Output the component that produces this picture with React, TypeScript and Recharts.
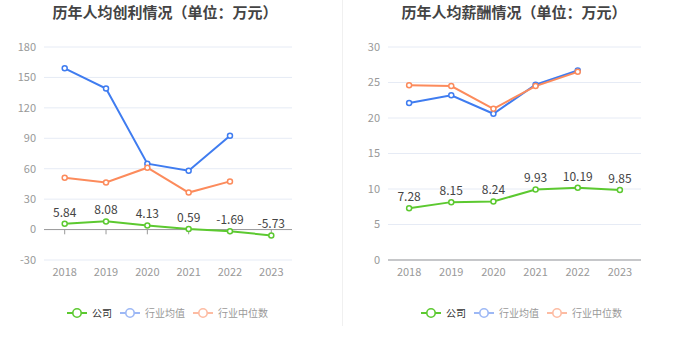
import React from 'react';
import {
  LineChart,
  Line,
  XAxis,
  YAxis,
  CartesianGrid,
  LabelList,
  ReferenceLine,
} from 'recharts';

// years on the x axis
const years = ['2018', '2019', '2020', '2021', '2022', '2023'];

// 人均创利 (万元)
const profitCompany = [5.84, 8.08, 4.13, 0.59, -1.69, -5.73];
const profitIndustryAvg = [159, 139, 65, 58, 92.5, null];
const profitIndustryMedian = [51, 46.5, 61, 36.5, 47.5, null];
const profitTicks = [-30, 0, 30, 60, 90, 120, 150, 180];

// 人均薪酬 (万元)
const salaryCompany = [7.28, 8.15, 8.24, 9.93, 10.19, 9.85];
const salaryIndustryAvg = [22.1, 23.2, 20.6, 24.7, 26.7, null];
const salaryIndustryMedian = [24.6, 24.5, 21.3, 24.5, 26.5, null];
const salaryTicks = [0, 5, 10, 15, 20, 25, 30];

const GREEN = '#5cc930';
const BLUE = '#3f7cf0';
const ORANGE = '#fc8b5c';
const FONT = '"Noto Sans CJK SC", "Noto Sans", sans-serif';

const buildRows = (a: number[], b: (number | null)[], c: (number | null)[]) =>
  years.map((year, i) => ({ year, company: a[i], avg: b[i], median: c[i] }));

const legendItems = [
  { name: '公司', color: GREEN, text: '#333' },
  { name: '行业均值', color: '#9db8f5', text: '#999' },
  { name: '行业中位数', color: '#fdbca3', text: '#999' },
];

function LegendRow({ left }: { left: number }) {
  return (
    <div
      style={{
        position: 'absolute',
        top: 305,
        left,
        display: 'flex',
        fontFamily: FONT,
        fontSize: 10,
        lineHeight: '16px',
      }}
    >
      {legendItems.map((item) => (
        <div key={item.name} style={{ display: 'flex', alignItems: 'center', marginRight: 8 }}>
          <svg width={20} height={12} style={{ marginRight: 5 }}>
            <line x1={0} y1={6} x2={20} y2={6} stroke={item.color} strokeWidth={2} />
            <circle cx={10} cy={6} r={4.2} fill="#fff" stroke={item.color} strokeWidth={1.6} />
          </svg>
          <span style={{ color: item.text }}>{item.name}</span>
        </div>
      ))}
    </div>
  );
}

interface PanelProps {
  title: string;
  titleX: number;
  legendX: number;
  rows: any[];
  ticks: number[];
  width: number;
  marginLeft: number;
  marginRight: number;
  yWidth: number;
  pad: number;
}

function Panel({ title, titleX, legendX, rows, ticks, width, marginLeft, marginRight, yWidth, pad }: PanelProps) {
  const dot = { r: 2.5, strokeWidth: 1.5, fill: '#fff' };
  const tickDrop = -(ticks[ticks.length - 1] - ticks[0]) / 45;
  return (
    <div style={{ position: 'relative', width, height: 349 }}>
      <div
        style={{
          position: 'absolute',
          top: 1,
          left: titleX - 150,
          width: 300,
          textAlign: 'center',
          fontFamily: FONT,
          fontWeight: 'bold',
          fontSize: 15,
          color: '#444',
        }}
      >
        {title}
      </div>
      <LineChart
        width={width}
        height={290}
        data={rows}
        margin={{ top: 47, right: marginRight, bottom: 0, left: marginLeft }}
        style={{ fontFamily: FONT }}
      >
        <CartesianGrid vertical={false} stroke="#e6ebf5" />
        <XAxis
          dataKey="year"
          axisLine={false}
          tickLine={false}
          tickMargin={2}
          height={30}
          padding={{ left: pad, right: pad }}
          tick={{ fill: '#999', fontSize: 11 }}
        />
        <YAxis
          domain={[ticks[0], ticks[ticks.length - 1]]}
          ticks={ticks}
          width={yWidth}
          axisLine={false}
          tickLine={false}
          tick={{ fill: '#999', fontSize: 11 }}
        />
        <ReferenceLine y={0} stroke="#999" />
        {years.map((y) => (
          <ReferenceLine
            key={y}
            segment={[
              { x: y, y: 0 },
              { x: y, y: tickDrop },
            ]}
            stroke="#999"
          />
        ))}
        <Line
          dataKey="avg"
          stroke={BLUE}
          strokeWidth={2}
          dot={{ ...dot, stroke: BLUE }}
          isAnimationActive={false}
        />
        <Line
          dataKey="median"
          stroke={ORANGE}
          strokeWidth={2}
          dot={{ ...dot, stroke: ORANGE }}
          isAnimationActive={false}
        />
        <Line
          dataKey="company"
          stroke={GREEN}
          strokeWidth={2}
          dot={{ ...dot, stroke: GREEN }}
          isAnimationActive={false}
        >
          <LabelList dataKey="company" position="top" offset={7} fill="#444" fontSize={12} />
        </Line>
      </LineChart>
      <LegendRow left={legendX} />
    </div>
  );
}

export default function App() {
  return (
    <div style={{ position: 'absolute', left: 0, top: 0, width: 680, height: 349, background: '#fff', display: 'flex' }}>
      <Panel
        title="历年人均创利情况（单位：万元）"
        titleX={165}
        legendX={67}
        rows={buildRows(profitCompany, profitIndustryAvg, profitIndustryMedian)}
        ticks={profitTicks}
        width={342}
        marginLeft={4}
        marginRight={50}
        yWidth={40}
        pad={20.7}
      />
      <div style={{ position: 'absolute', left: 342, top: 0, width: 1, height: 326, background: '#f0f0f0' }} />
      <Panel
        title="历年人均薪酬情况（单位：万元）"
        titleX={172}
        legendX={79}
        rows={buildRows(salaryCompany, salaryIndustryAvg, salaryIndustryMedian)}
        ticks={salaryTicks}
        width={338}
        marginLeft={10}
        marginRight={39}
        yWidth={36}
        pad={21.1}
      />
    </div>
  );
}
